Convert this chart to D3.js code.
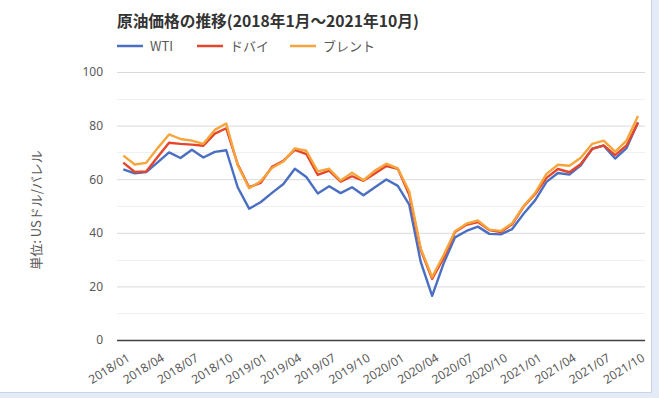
<!DOCTYPE html>
<html><head><meta charset="utf-8">
<script src="https://cdn.jsdelivr.net/npm/d3@7"></script>
<style>
html,body{margin:0;padding:0;background:#fff;}
text{font-family:"Noto Sans CJK JP","Noto Sans",sans-serif;}
</style></head>
<body><svg id="c" width="659" height="398"></svg>
<script>
const title = "原油価格の推移(2018年1月～2021年10月)";
const yLabel = "単位: USドル/バレル";
const months = [];
for (let y = 2018; y <= 2021; y++) for (let m = 1; m <= 12; m++) { if (y === 2021 && m > 10) break; months.push(y + "/" + String(m).padStart(2, "0")); }
const tickLabels = ["2018/01","2018/04","2018/07","2018/10","2019/01","2019/04","2019/07","2019/10","2020/01","2020/04","2020/07","2020/10","2021/01","2021/04","2021/07","2021/10"];
const yTicks = [0,20,40,60,80,100];
const seriesNames = ["WTI","ドバイ","ブレント"];
const seriesColors = ["#4a6fc2","#e5452b","#f6a53c"];
const wti = [63.7,62.2,62.7,66.3,70.0,67.9,71.0,68.1,70.2,70.8,57.0,49.0,
  51.4,54.9,58.2,63.9,60.8,54.7,57.4,54.8,57.0,54.0,57.0,59.9,
  57.5,50.5,29.2,16.5,28.5,38.3,40.7,42.3,39.6,39.4,41.4,47.1,
  52.1,59.0,62.3,61.7,65.2,71.4,72.5,67.7,71.6,81.2];
const dubai = [66.2,62.7,62.9,68.3,73.6,73.2,72.9,72.5,77.0,79.0,65.6,57.0,
  58.6,64.6,66.9,70.9,69.4,61.6,63.2,59.1,61.1,59.4,62.1,64.9,
  63.9,54.2,33.7,22.8,30.5,40.3,43.0,44.0,41.0,40.3,43.2,49.8,
  54.4,60.5,63.8,62.6,65.7,71.3,72.6,69.0,72.6,81.1];
const brent = [68.8,65.5,66.1,71.6,76.7,75.0,74.4,73.2,78.4,80.8,65.2,56.6,
  59.2,64.2,66.6,71.5,70.6,62.9,63.9,59.5,62.4,59.6,63.2,65.8,
  64.0,55.4,34.2,23.5,31.6,40.6,43.4,44.6,41.2,40.7,43.6,50.0,
  54.8,62.0,65.4,65.0,68.0,73.2,74.4,70.3,74.4,83.6];
const data = [wti, dubai, brent];

const svg = d3.select("#c");
// frame
svg.append("rect").attr("x",0).attr("y",0).attr("width",659).attr("height",398).attr("fill","#e3ecf6");
svg.append("rect").attr("x",0).attr("y",0).attr("width",651).attr("height",392).attr("fill","#fff");
svg.append("line").attr("x1",651.5).attr("x2",651.5).attr("y1",0).attr("y2",392.5).attr("stroke","#c5d5e8");
svg.append("line").attr("x1",0).attr("x2",651.5).attr("y1",392.5).attr("y2",392.5).attr("stroke","#c5d5e8");

const x = d3.scalePoint().domain(months).range([123.3, 638]);
const y = d3.scaleLinear().domain([0,100]).range([340, 72]);
const plotL = 117, plotR = 645;

// minor gridlines
const g = svg.append("g");
d3.range(10,100,20).forEach(v => g.append("line").attr("x1",plotL).attr("x2",plotR).attr("y1",Math.round(y(v))+0.5).attr("y2",Math.round(y(v))+0.5).attr("stroke","#f0f0f0").attr("stroke-width",1));
// major gridlines via axis
const yAxis = d3.axisLeft(y).tickValues(yTicks).tickSize(-(plotR-plotL)).tickPadding(14);
const ya = svg.append("g").attr("transform",`translate(${plotL},0)`).call(yAxis);
ya.select(".domain").remove();
ya.selectAll(".tick line").attr("stroke","#d9d9d9");
ya.selectAll(".tick text").attr("fill","#595959").style("font-size","12px").style("font-family","'Noto Sans',sans-serif");
ya.selectAll(".tick").filter(d=>d===0).select("line").attr("stroke","#404040").attr("stroke-width",1.5);

// x axis labels
const xAxis = d3.axisBottom(x).tickValues(tickLabels).tickSize(0).tickPadding(0);
const xa = svg.append("g").attr("transform",`translate(0,340)`).call(xAxis);
xa.select(".domain").remove();
xa.selectAll(".tick text").attr("fill","#595959").style("font-size","12px").style("font-family","'Noto Sans',sans-serif")
  .attr("text-anchor","end").attr("dy",null).attr("y",0)
  .attr("transform","translate(7,20) rotate(-32)");

// lines
const line = d3.line().x((d,i)=>x(months[i])).y(d=>y(d));
data.forEach((s,k)=>{
  svg.append("path").datum(s).attr("d",line).attr("fill","none").attr("stroke",seriesColors[k]).attr("stroke-width",2.4).attr("stroke-linejoin","round");
});

// title
svg.append("text").attr("x",117).attr("y",27).text(title).attr("fill","#333").style("font-size","15.7px").style("font-weight","bold");
// legend
const legX = [117, 197, 290];
seriesNames.forEach((n,k)=>{
  svg.append("line").attr("x1",legX[k]).attr("x2",legX[k]+26).attr("y1",46).attr("y2",46).attr("stroke",seriesColors[k]).attr("stroke-width",2.5);
  svg.append("text").attr("x",legX[k]+33).attr("y",50.5).text(n).attr("fill","#595959").style("font-size","13px");
});
// y label
svg.append("text").attr("transform","translate(41,210) rotate(-90)").attr("text-anchor","middle").text(yLabel).attr("fill","#595959").style("font-size","13px");
</script></body></html>
